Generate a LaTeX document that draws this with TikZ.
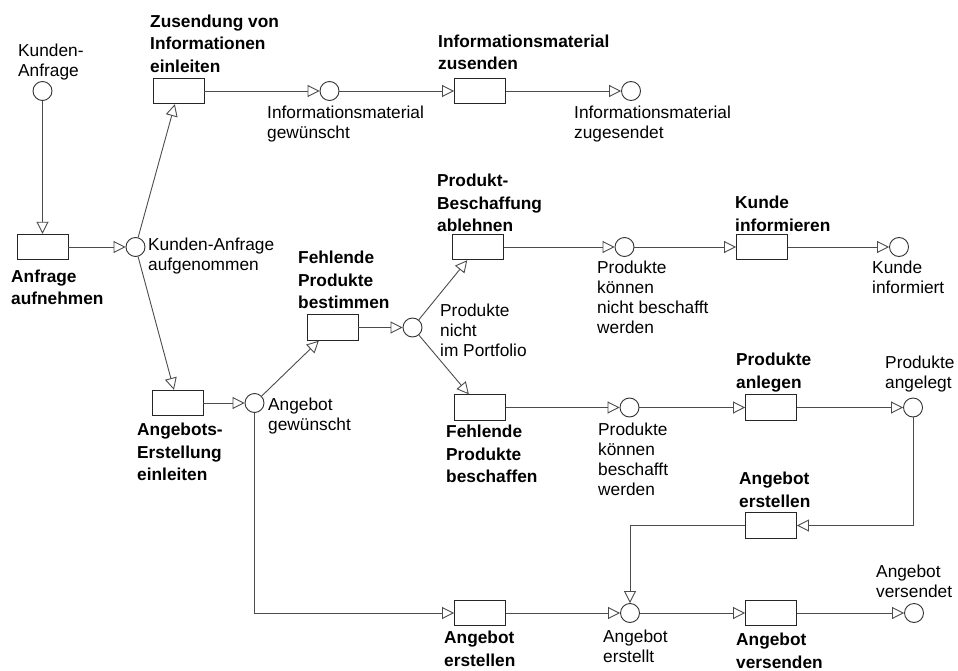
\documentclass[tikz,border=0pt]{standalone}
\usepackage{fontspec}
\setmainfont{Liberation Sans}
\usetikzlibrary{arrows.meta}
\newcommand\labtab[1]{\begin{tabular}[t]{@{}l@{}}#1\end{tabular}}
\tikzset{
  place/.style={circle, draw=black!80, line width=0.9pt, minimum size=19pt, inner sep=0pt, fill=white},
  trans/.style={rectangle, draw=black!85, line width=0.9pt, minimum width=51pt, minimum height=25.5pt, inner sep=0pt, fill=white},
  arr/.style={draw=black!70, line width=0.9pt, -{Triangle[open, length=12pt, width=12pt, fill=white]}},
  lab/.style={anchor=base west, inner sep=0pt, font=\fontsize{17.3}{20}\selectfont},
  blab/.style={anchor=base west, inner sep=0pt, font=\fontsize{17.3}{22.5}\selectfont\bfseries}
}
\begin{document}
\begin{tikzpicture}[x=1pt, y=-1pt]
\path[use as bounding box, fill=white] (0,0) rectangle (958,671);
% places and transitions
\node[place] (kaS) at (42.5,91) {};
\node[trans] (anf) at (42.5,247) {};
\node[place] (kaA) at (135.5,247) {};
\node[trans] (zus) at (178.5,91) {};
\node[place] (imG) at (329.5,91) {};
\node[trans] (imZ) at (480,91) {};
\node[place] (imD) at (631,91) {};
\node[trans] (aee) at (177.5,403) {};
\node[place] (agw) at (254.5,403) {};
\node[trans] (fpb) at (332.5,327.5) {};
\node[place] (pnp) at (412.5,327.5) {};
\node[trans] (pba) at (478,247) {};
\node[place] (pknb) at (624.5,247) {};
\node[trans] (kui) at (762,247) {};
\node[place] (kud) at (899,247) {};
\node[trans] (fpc) at (480,407.5) {};
\node[place] (pkb) at (629.5,407.5) {};
\node[trans] (pan) at (771,407.5) {};
\node[place] (pag) at (913,407.5) {};
\node[trans] (aem) at (771,525.5) {};
\node[trans] (aeb) at (480,613) {};
\node[place] (aet) at (630,613) {};
\node[trans] (avs) at (771,613) {};
\node[place] (avd) at (914,613) {};
% connectors
\draw[arr] (kaS) -- (anf);
\draw[arr] (anf) -- (kaA);
\draw[arr] (kaA) -- (zus);
\draw[arr] (kaA) -- (aee);
\draw[arr] (zus) -- (imG);
\draw[arr] (imG) -- (imZ);
\draw[arr] (imZ) -- (imD);
\draw[arr] (aee) -- (agw);
\draw[arr] (agw) -- (fpb);
\draw[arr] (fpb) -- (pnp);
\draw[arr] (pnp) -- (pba);
\draw[arr] (pnp) -- (fpc);
\draw[arr] (pba) -- (pknb);
\draw[arr] (pknb) -- (kui);
\draw[arr] (kui) -- (kud);
\draw[arr] (fpc) -- (pkb);
\draw[arr] (pkb) -- (pan);
\draw[arr] (pan) -- (pag);
\draw[arr] (pag) |- (aem);
\draw[arr] (aem) -| (aet);
\draw[arr] (agw) |- (aeb);
\draw[arr] (aeb) -- (aet);
\draw[arr] (aet) -- (avs);
\draw[arr] (avs) -- (avd);
% labels
\node[lab] (t1) at (18,57) {\labtab{Kunden-\\Anfrage}};
\node[blab] (t2) at (150,27.5) {\labtab{Zusendung von\\Informationen\\einleiten}};
\node[lab] (t3) at (267,119) {\labtab{Informationsmaterial\\gewünscht}};
\node[blab] (t4) at (438,47.5) {\labtab{Informationsmaterial\\zusenden}};
\node[lab] (t5) at (574,119) {\labtab{Informationsmaterial\\zugesendet}};
\node[lab] (t6) at (148,251) {\labtab{Kunden-Anfrage\\aufgenommen}};
\node[blab] (t7) at (11,282) {\labtab{Anfrage\\aufnehmen}};
\node[blab] (t8) at (437,187) {\labtab{Produkt-\\Beschaffung\\ablehnen}};
\node[lab] (t9) at (597,273.5) {\labtab{Produkte\\können\\nicht beschafft\\werden}};
\node[blab] (t10) at (735,208.5) {\labtab{Kunde\\informieren}};
\node[lab] (t11) at (872,273.5) {\labtab{Kunde\\informiert}};
\node[blab] (t12) at (298,263.5) {\labtab{Fehlende\\Produkte\\bestimmen}};
\node[lab] (t13) at (440,316.5) {\labtab{Produkte\\nicht\\im Portfolio}};
\node[lab] (t14) at (268,410.5) {\labtab{Angebot\\gewünscht}};
\node[blab] (t15) at (137,435.5) {\labtab{Angebots-\\Erstellung\\einleiten}};
\node[blab] (t16) at (446,437.5) {\labtab{Fehlende\\Produkte\\beschaffen}};
\node[lab] (t17) at (598,435.5) {\labtab{Produkte\\können\\beschafft\\werden}};
\node[blab] (t18) at (736,365.5) {\labtab{Produkte\\anlegen}};
\node[lab] (t19) at (885,368) {\labtab{Produkte\\angelegt}};
\node[blab] (t20) at (739,484.5) {\labtab{Angebot\\erstellen}};
\node[lab] (t21) at (876,577.5) {\labtab{Angebot\\versendet}};
\node[lab] (t22) at (603,642) {\labtab{Angebot\\erstellt}};
\node[blab] (t23) at (736,645.5) {\labtab{Angebot\\versenden}};
\node[blab] (t24) at (444,643.5) {\labtab{Angebot\\erstellen}};
\end{tikzpicture}
\end{document}
